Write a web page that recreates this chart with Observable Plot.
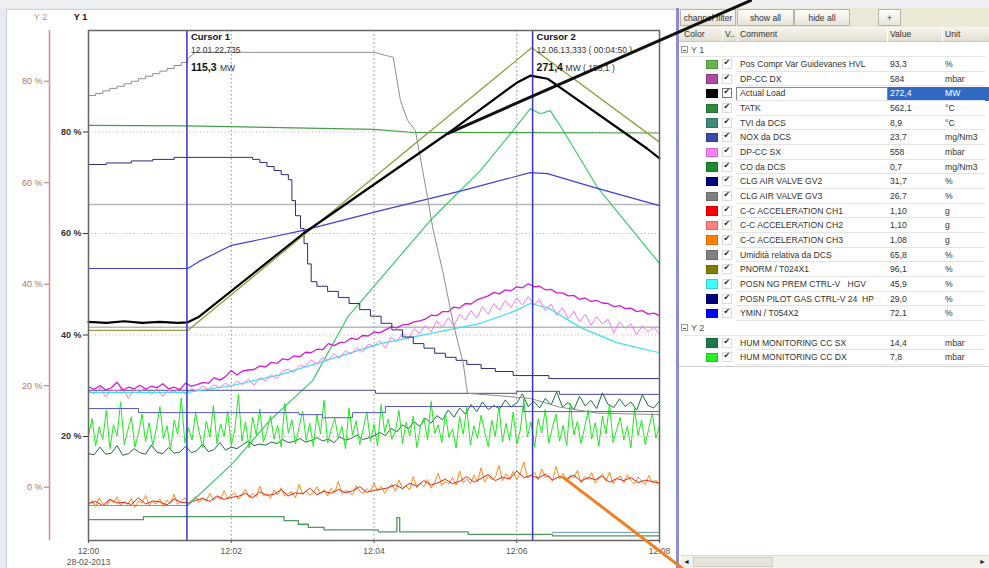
<!DOCTYPE html>
<html><head><meta charset="utf-8">
<script src="https://cdn.jsdelivr.net/npm/d3@7"></script>
<script src="https://cdn.jsdelivr.net/npm/@observablehq/plot@0.6"></script>
<style>
html,body{margin:0;padding:0;width:989px;height:568px;overflow:hidden;background:#e6ebf1;}
#wrap{position:relative;width:989px;height:568px;font-family:"Liberation Sans",Arial,sans-serif;}
#panel{position:absolute;left:6px;top:9px;width:671px;height:559px;background:#fff;border-left:1px solid #cdd2d8;border-top:1px solid #cdd2d8;box-sizing:border-box;}
#topstrip{position:absolute;left:0;top:0;width:989px;height:8px;background:#eef0f2;}
#divider{position:absolute;left:676px;top:8px;width:3px;height:560px;background:#8c8cd2;}
#legend{position:absolute;left:679px;top:8px;width:310px;height:560px;background:#fff;font-size:8.6px;color:#222;overflow:hidden;}
#chart{position:absolute;left:0;top:0;width:989px;height:568px;pointer-events:none;}
.abs{position:absolute;white-space:pre;}
.btn{position:absolute;top:1px;height:17px;line-height:16px;text-align:center;background:linear-gradient(#fdfdfb,#e6e4da);border:1px solid #b9b5a6;box-sizing:border-box;font-size:8.6px;color:#333;}
</style>
</head><body>
<div id="wrap">
  <div id="topstrip"></div>
  <div id="panel"></div>
  <div id="legend"></div>
  <div id="divider"></div>
  <div id="chart"></div>
</div>
<script>
// ---------- time / scale helpers ----------
const T0 = Date.UTC(2013, 1, 28, 12, 0, 0);
const toDate = (m) => new Date(T0 + m * 60000);
const Y2_OFFSET = 10; // Y2 0 % sits at Y1 10 %
const dateLabel = "28-02-2013";

// ---------- axes ----------
const xTickMinutes = [0, 2, 4, 6, 8];
const xGridMinutes = [2, 4, 6];
const y1Ticks = [20, 40, 60, 80];
const y2Ticks = [0, 20, 40, 60, 80];
const limitLevels = [65.7, 41.5];

// ---------- cursors ----------
const cursorMinutes = [1.3789, 6.2222];
const cursorNames = ["Cursor 1", "Cursor 2"];
const cursorStamps = ["12.01.22,735", "12.06.13,333 ( 00:04:50 )"];
const cursorValues = ["115,3", "271,4"];
const cursorSuffix = ["MW", "MW ( 156,1 )"];

// ---------- smooth series [minute, Y1 %] ----------
const actualLoad = [[0,42.6],[0.25,42.4],[0.5,42.7],[0.75,42.4],[1.0,42.6],[1.25,42.4],[1.39,42.5],[1.55,43.6],[3.01,60.0],[5.03,79.7],[6.0,89.7],[6.19,91.1],[6.43,90.5],[7.83,76.7],[8.0,74.8]];
const pnorm = [[0,40.9],[1.39,40.9],[6.21,96.6],[8.0,78.0]];
const posCompr = [[0,6.4],[1.39,6.4],[2.02,14.7],[2.55,23.3],[3.14,31.0],[3.63,43.5],[4.79,62.6],[5.49,72.4],[5.95,80.3],[6.19,84.6],[6.33,83.6],[6.47,84.2],[6.65,80.3],[7.13,69.1],[8.0,54.1]];
const tatk = [[0,81.3],[1.39,81.2],[2.5,80.9],[4.0,80.5],[4.55,79.9],[8.0,79.8]];
const ymin = [[0,53.1],[1.39,53.1],[1.55,54.5],[1.99,57.6],[3.01,60.6],[4.09,64.5],[5.25,68.5],[6.19,72.0],[6.43,71.8],[7.13,68.9],[8.0,65.5]];
const gv2Steps = [[0,73.6],[0.25,73.9],[0.6,74.3],[0.9,74.6],[1.2,75.0],[2.3,74.6],[2.4,74.0],[2.5,73.2],[2.6,72.4],[2.7,71.6],[2.8,70.6],[2.85,66.5],[2.9,63.5],[2.97,61.0],[3.02,58.0],[3.07,54.0],[3.12,50.5],[3.2,49.6],[3.35,48.6],[3.5,47.4],[3.65,46.2],[3.8,45.0],[3.95,43.7],[4.1,42.3],[4.25,41.0],[4.4,39.6],[4.55,38.3],[4.7,37.4],[4.85,36.4],[5.0,35.6],[5.15,35.0],[5.3,34.2],[5.5,33.4],[5.7,32.8],[5.95,32.0],[6.45,31.4],[8.0,31.2]];
const umiditaStairs = [[0,87.2],[0.1,87.6],[0.2,88.1],[0.3,88.6],[0.4,89.0],[0.5,89.5],[0.6,90.0],[0.7,90.5],[0.8,91.0],[0.9,91.5],[1.0,92.0],[1.1,92.5],[1.2,93.1],[1.3,93.7],[1.39,94.5]];
const umiditaTail = [[1.39,94.5],[1.5,95.7],[4.0,95.7],[4.08,95.4],[4.16,95.1],[4.22,94.9],[4.27,94.7],[4.34,88.8],[4.37,86.2],[4.47,82.3],[4.58,80.3],[4.75,67.1],[4.83,60.6],[4.97,52.1],[5.11,42.3],[5.25,34.4],[5.31,28.5],[5.77,28.0],[6.19,27.5],[6.6,25.8],[7.13,24.6],[8.0,24.3]];
const posnNg = [[0,28.7],[1.39,28.7],[2.0,30.0],[2.69,32.2],[4.09,38.3],[5.49,42.3],[5.95,44.6],[6.19,46.2],[6.43,45.4],[6.89,41.5],[7.4,38.5],[8.0,36.5]];
const pilotSteps = [[0,29.1],[4.02,28.5],[6.0,28.9],[6.6,28.3],[8.0,28.1]];
const noxSteps = [[0,25.5],[0.7,24.7],[2.95,24.3],[3.28,23.7],[3.7,24.7],[4.16,25.9],[6.1,24.9],[8.0,24.9]];
const tviSteps = [[0,3.6],[0.77,4.2],[2.74,3.4],[2.94,2.7],[3.08,2.1],[3.3,1.6],[4.06,1.2],[4.32,4.0],[4.36,1.2],[5.32,0.7],[6.5,0.4],[8.0,0.4]];
const coTail = [[6.5,1.1],[8.0,1.1]];

// ---------- sampled (noisy) series ----------
const dpDxStep = 0.08;
const dpDxVals = [29.8,29.3,30.0,29.2,29.6,30.7,29.1,29.7,29.4,30.1,
29.3,29.9,29.6,30.4,29.4,29.7,29.2,30.5,29.9,30.2,
30.6,30.5,31.6,31.1,31.8,33.0,32.1,32.9,33.1,33.2,
33.9,33.7,34.6,34.4,35.3,35.1,35.9,35.7,36.6,36.5,
37.2,37.1,38.3,37.9,38.5,38.6,39.4,39.1,39.9,39.8,
40.6,40.4,41.0,41.6,41.4,42.0,42.1,42.6,42.8,43.1,
43.9,43.8,44.6,44.6,45.5,45.3,46.2,46.1,46.9,47.3,
47.7,48.4,48.1,48.9,48.7,49.5,49.3,50.1,49.5,49.6,
48.9,49.0,48.3,48.3,47.7,47.8,47.0,47.3,46.6,46.8,
46.3,46.2,45.6,45.8,45.2,45.3,44.6,44.8,44.1,44.3,
43.8];
const dpSxStep = 0.08;
const dpSxVals = [29.0,28.4,29.6,27.8,29.2,28.9,29.5,27.5,29.3,28.8,
29.6,28.2,29.4,27.9,29.1,28.7,29.5,28.3,29.4,29.0,
29.9,29.3,30.2,29.6,30.5,29.8,30.9,30.2,31.3,30.1,
31.6,30.9,32.1,31.4,32.9,33.3,32.6,34.0,33.8,35.1,
34.2,35.6,35.0,36.3,35.4,36.9,36.2,37.5,36.6,38.2,
37.8,38.9,37.4,39.6,38.7,40.4,39.1,41.2,40.3,41.9,
40.6,42.8,41.5,43.4,41.8,44.1,42.9,44.8,43.3,45.6,
44.1,46.2,44.9,46.8,45.4,47.3,45.9,47.6,46.0,46.9,
44.8,46.1,43.9,45.4,43.2,44.7,42.6,44.1,41.9,43.6,
42.2,43.1,40.4,42.6,41.3,42.2,40.1,41.8,40.6,41.5,
40.2];
// Y2 units (%)
const humDxStep = 0.05;
const humDxVals = [10.2,13.5,8.1,11.9,9.4,15.2,7.6,12.3,10.1,16.8,8.4,11.2,13.9,7.9,10.6,14.4,9.0,12.7,8.3,11.5,
15.9,9.6,12.1,7.4,13.2,10.4,17.6,8.8,11.7,9.3,14.6,10.9,7.8,13.0,9.9,16.1,8.6,12.5,10.0,14.9,
8.2,11.4,18.3,9.1,12.9,7.7,13.8,10.3,15.4,8.9,11.1,14.1,9.5,12.2,7.9,16.5,10.7,13.3,8.5,11.8,
15.0,9.2,12.6,8.0,14.3,10.5,17.1,8.7,11.3,13.6,9.7,12.0,7.6,15.6,10.2,13.1,8.4,11.6,14.7,9.0,
12.4,8.1,16.3,10.8,13.4,9.4,11.0,15.1,8.6,12.8,10.1,14.0,7.8,11.9,13.7,9.3,16.9,10.6,12.3,8.8,
14.5,9.8,11.5,7.7,13.9,10.4,15.7,8.3,12.1,9.6,14.2,11.0,8.0,13.2,10.0,16.0,8.9,12.6,9.2,14.8,
8.5,11.3,17.4,9.9,12.9,7.9,13.5,10.7,15.3,8.7,11.8,14.4,9.1,12.2,8.2,16.6,10.3,13.0,8.6,11.7,
15.2,9.5,12.7,8.1,14.0,10.5,16.4,8.8,11.4,13.8,9.3,12.0,7.8,15.5,10.2,13.3,8.4,11.6,14.6,9.7,
12.1];
const humSxStep = 0.08;
const humSxVals = [6.6,6.4,7.9,6.5,6.7,8.2,6.3,6.6,7.6,6.8,6.5,8.3,6.9,6.6,7.8,6.7,6.9,8.1,
6.8,7.2,8.5,7.0,7.4,8.8,7.3,7.9,7.6,8.4,9.1,8.2,8.5,
8.3,8.9,8.6,9.4,8.8,9.0,9.6,8.9,9.2,9.8,9.1,9.5,8.8,9.9,9.3,9.6,10.3,9.4,9.7,10.1,
10.8,10.2,11.6,10.9,12.3,11.5,12.9,12.0,13.6,12.6,14.1,13.3,15.2,13.8,15.6,14.4,16.3,14.9,16.8,15.3,
16.1,15.4,17.2,15.8,16.6,18.4,15.9,16.9,15.6,17.5,16.2,18.8,15.8,16.7,15.3,17.9,16.0,17.1,15.5,18.6,
16.3,15.7,17.4,15.9,16.8,15.2,18.2,16.1,15.6,17.0];
const ch3Step = 0.05;
const ch3Vals = [6.5,7.4,6.2,7.9,6.8,6.3,7.6,6.9,8.1,6.4,7.2,6.6,7.8,6.1,7.3,6.9,8.4,6.5,7.1,6.7,7.7,6.2,7.5,6.8,8.6,6.6,7.3,7.9,
6.6,7.5,8.2,7.0,7.9,7.3,8.8,7.4,8.1,7.6,9.3,7.8,8.4,
8.9,7.6,8.5,9.6,7.9,8.8,8.1,10.2,8.3,8.7,7.8,9.4,8.5,9.9,8.2,8.8,9.1,7.9,10.6,8.6,9.3,8.4,9.0,10.1,8.7,9.5,8.3,9.8,8.9,11.2,8.6,9.4,9.0,8.5,10.3,9.2,8.8,9.7,9.1,10.8,
9.3,10.2,8.8,9.9,10.6,9.2,11.4,9.7,10.3,9.5,12.1,9.9,10.8,10.1,11.5,9.8,10.9,12.8,10.3,11.2,10.6,11.9,10.4,13.2,10.9,11.6,10.7,12.4,11.1,13.8,11.0,12.2,11.5,11.9,14.3,11.3,12.6,11.7,13.1,11.4,12.8,15.0,11.8,12.5,
12.9,11.4,13.6,11.9,12.3,11.2,14.1,11.6,12.7,11.0,12.4,11.8,13.3,10.9,12.1,11.5,12.9,10.8,11.9,12.6,11.1,13.0,10.7,11.8,12.2,10.9,12.5,11.3,10.6,12.0,11.2,10.5,12.3,10.9,11.4,10.6];
const ch1Step = 0.1;
const ch1Vals = [6.8,7.2,6.4,7.6,6.9,7.0,6.6,7.9,6.7,7.3,7.1,6.5,7.7,7.0,
6.9,7.4,7.8,7.2,8.3,7.6,8.0,
8.2,8.8,7.9,9.1,8.4,8.6,9.5,8.3,8.9,8.7,9.8,8.5,9.2,8.8,9.6,8.9,9.3,10.1,9.0,9.4,
9.6,9.9,10.5,9.7,10.8,10.2,11.3,10.4,10.9,11.6,10.7,11.2,12.1,11.0,11.7,12.5,11.3,12.0,11.6,13.2,11.9,12.3,
11.8,12.6,11.4,12.1,11.7,12.4,11.2,11.9,11.5,12.2,11.0,11.7,11.3,11.9,10.9,11.4,11.1,10.8];

// ---------- annotation call-outs ----------
const calloutBlack = [[5.03,79.7],[9.275,105.9]];
const calloutOrange = [[6.655,11.9],[8.322,-6.0]];

// ---------- legend table ----------
const y1Names = ["Pos Compr Var Guidevanes HVL","DP-CC DX","Actual Load","TATK","TVI da DCS","NOX da DCS","DP-CC SX","CO da DCS","CLG AIR VALVE GV2","CLG AIR VALVE GV3","C-C ACCELERATION CH1","C-C ACCELERATION CH2","C-C ACCELERATION CH3","Umidità relativa da DCS","PNORM / T024X1","POSN NG PREM CTRL-V   HGV","POSN PILOT GAS CTRL-V 24  HP","YMIN / T054X2"];
const y1Swatches = ["#66b84a","#b04aa0","#000000","#2e8b3a","#3a8a7e","#3a4aa8","#ff80ff","#1f8a2a","#000080","#808080","#ff0000","#ff8080","#ff8000","#808080","#808000","#40ffff","#000080","#0000ff"];
const y1Values = ["93,3","584","272,4","562,1","8,9","23,7","558","0,7","31,7","26,7","1,10","1,10","1,08","65,8","96,1","45,9","29,0","72,1"];
const y1Units = ["%","mbar","MW","°C","°C","mg/Nm3","mbar","mg/Nm3","%","%","g","g","g","%","%","%","%","%"];
const y2Names = ["HUM MONITORING CC SX","HUM MONITORING CC DX"];
const y2Swatches = ["#1e7a4a","#22f022"];
const y2Values = ["14,4","7,8"];
const y2Units = ["mbar","mbar"];
const toolbarLabels = ["channel filter","show all","hide all","+"];
const headerLabels = ["Color","V..","Comment","Value","Unit"];
const highlightedRow = "Actual Load";

// ---------- build chart ----------
const pairs = (arr, off = 0) => arr.map(([t, v]) => ({t: toDate(t), v: v + off}));
const sampled = (step, vals, off = 0) => vals.map((v, i) => ({t: toDate(i * step), v: v + off}));
const L = (data, stroke, extra = {}) => Plot.line(data, {x: "t", y: "v", stroke, strokeWidth: 1, ...extra});
const fmt = d3.utcFormat("%H:%M");
const cursorRows = cursorMinutes.map((m, i) => ({t: toDate(m), name: cursorNames[i], stamp: cursorStamps[i], val: cursorValues[i], suf: cursorSuffix[i]}));
const FONT = "'Liberation Sans', Arial, sans-serif";

const chart = Plot.plot({
  width: 989, height: 568,
  marginLeft: 88, marginRight: 330, marginTop: 30, marginBottom: 28,
  style: {background: "transparent", fontFamily: FONT, fontSize: "9px", overflow: "visible"},
  x: {type: "utc", domain: [toDate(0), toDate(8)]},
  y: {domain: [-0.5, 100]},
  marks: [
    Plot.gridY(y1Ticks, {stroke: "#c7a3b5", strokeOpacity: 1, strokeDasharray: "1,2.5"}),
    Plot.gridX(xGridMinutes.map(toDate), {stroke: "#8a8a8a", strokeOpacity: 1, strokeDasharray: "1.5,2.5"}),
    Plot.ruleY(limitLevels, {stroke: "#b8b8b8", strokeWidth: 1.5}),
    L(pairs(tviSteps), "#4f9a5c", {curve: "step-after", strokeWidth: 1.3}),
    L(pairs(coTail), "#5aa0a8"),
    L(sampled(ch3Step, ch3Vals), "#ff8a1e"),
    L(sampled(ch1Step, ch1Vals), "#e3261c"),
    L(pairs(posCompr), "#3dca6c", {strokeWidth: 1.2}),
    L(sampled(humSxStep, humSxVals, Y2_OFFSET), "#18703f"),
    L(sampled(humDxStep, humDxVals, Y2_OFFSET), "#1ee81e"),
    L(pairs(noxSteps), "#5858c4", {curve: "step-after"}),
    L(pairs(pilotSteps), "#4a4a96", {curve: "step-after"}),
    L(pairs(posnNg), "#3fe0ee", {strokeWidth: 1.2}),
    L(sampled(dpSxStep, dpSxVals), "#f07cf0"),
    L(sampled(dpDxStep, dpDxVals), "#d21ed2", {strokeWidth: 1.3}),
    L(pairs(ymin), "#4040d4", {strokeWidth: 1.2}),
    L(pairs(gv2Steps), "#2c2c78", {curve: "step-after"}),
    L(pairs(umiditaStairs), "#8e8e8e", {curve: "step-after"}),
    L(pairs(umiditaTail), "#8e8e8e"),
    L(pairs(tatk), "#44a048", {strokeWidth: 1.2}),
    L(pairs(pnorm), "#9a9a40", {strokeWidth: 1.3}),
    L(pairs(actualLoad), "#000", {strokeWidth: 2.2}),
    Plot.ruleX(cursorRows, {x: "t", stroke: "#3434c8", strokeWidth: 1.5}),
    Plot.frame({stroke: "#666", strokeWidth: 1.5}),
    Plot.axisY(y1Ticks, {tickFormat: d => `${d} %`, tickSize: 5, tickPadding: 2, fontWeight: "bold", fontSize: 9, color: "#333", label: null}),
    Plot.axisY(y2Ticks.map(d => d + Y2_OFFSET), {tickFormat: d => `${d - Y2_OFFSET} %`, tickSize: 5, tickPadding: 2, dx: -39, fontSize: 9, color: "#b07466", label: null}),
    Plot.ruleX([{t: toDate(0), a: -0.5, b: 100}], {x: "t", y1: "a", y2: "b", dx: -39, stroke: "#d98c8c", strokeWidth: 1.5}),
    Plot.axisX(xTickMinutes.map(toDate), {tickFormat: d => +d === T0 ? `${fmt(d)}\n${dateLabel}` : fmt(d), tickSize: 3, tickPadding: 2, fontSize: 8.5, lineHeight: 1.35, color: "#555", label: null}),
    Plot.text(["Y 2"], {text: d => d, frameAnchor: "top-left", dx: -48, dy: -13, lineAnchor: "middle", textAnchor: "middle", fill: "#c49494", fontSize: 9}),
    Plot.text(["Y 1"], {text: d => d, frameAnchor: "top-left", dx: -8, dy: -13, lineAnchor: "middle", textAnchor: "middle", fill: "#111", fontWeight: "bold", fontSize: 9}),
    Plot.text(cursorRows, {x: "t", text: "name", frameAnchor: "top", dx: 4, dy: 3, textAnchor: "start", lineAnchor: "top", fontWeight: "bold", fontSize: 9.5, fill: "#111"}),
    Plot.text(cursorRows, {x: "t", text: "stamp", frameAnchor: "top", dx: 4, dy: 16, textAnchor: "start", lineAnchor: "top", fontSize: 8.5, fill: "#333"}),
    Plot.text(cursorRows, {x: "t", text: "val", frameAnchor: "top", dx: 4, dy: 33, textAnchor: "start", lineAnchor: "top", fontWeight: "bold", fontSize: 10.5, fill: "#111"}),
    Plot.text(cursorRows, {x: "t", text: "suf", frameAnchor: "top", dx: 33, dy: 34.5, textAnchor: "start", lineAnchor: "top", fontSize: 8.5, fill: "#333"}),
    Plot.line(pairs(calloutBlack), {x: "t", y: "v", stroke: "#111", strokeWidth: 3}),
    Plot.line(pairs(calloutOrange), {x: "t", y: "v", stroke: "#f08020", strokeWidth: 3})
  ]
});
document.getElementById("chart").appendChild(chart);

// ---------- build legend ----------
const legend = document.getElementById("legend");
function el(parent, css, text, cls) {
  const d = document.createElement("div");
  d.className = cls || "abs";
  Object.assign(d.style, css);
  if (text != null) d.textContent = text;
  parent.appendChild(d);
  return d;
}
// toolbar
el(legend, {left: "0px", top: "0px", width: "310px", height: "19px", background: "#ece9d8"});
const btnPos = [[1, 56], [58, 57], [115, 56], [199, 23]];
toolbarLabels.forEach((lab, i) => el(legend, {left: btnPos[i][0] + "px", width: btnPos[i][1] + "px"}, lab, "btn"));
// header
el(legend, {left: "0px", top: "19px", width: "310px", height: "15px", background: "linear-gradient(#f6f5ef,#e3e0d2)", borderBottom: "1px solid #cbc7b8", boxSizing: "border-box"});
const hdrLeft = [3, 43, 58, 208, 263];
headerLabels.forEach((lab, i) => {
  el(legend, {left: hdrLeft[i] + "px", top: "19px", height: "15px", lineHeight: "15px", color: "#333", paddingLeft: "2px", borderLeft: i ? "1px solid #fff" : "none", fontSize: "8.6px"}, lab);
});
const ROW_H = 14.65;
function groupHeader(label, y) {
  const box = el(legend, {left: "2px", top: (y + 3.5) + "px", width: "7px", height: "7px", border: "1px solid #9a9a9a", boxSizing: "border-box"});
  el(box, {left: "1px", top: "2.5px", width: "3px", height: "1px", background: "#555"});
  el(legend, {left: "12px", top: y + "px", height: ROW_H + "px", lineHeight: ROW_H + "px", color: "#555", fontSize: "9px"}, label);
  el(legend, {left: "2px", top: (y + ROW_H - 1) + "px", width: "304px", height: "1px", background: "#e6e6e6"});
}
function row(name, color, value, unit, y) {
  const hi = name === highlightedRow;
  if (hi) {
    el(legend, {left: "209px", top: (y + 0.5) + "px", width: "101px", height: (ROW_H - 1) + "px", background: "#316ac5"});
    el(legend, {left: "57px", top: (y + 0.5) + "px", width: "152px", height: (ROW_H - 1) + "px", border: "1px solid #8a8a8a", boxSizing: "border-box"});
  }
  el(legend, {left: "27px", top: (y + 2.5) + "px", width: "12px", height: "9.5px", background: color, border: "1px solid rgba(0,0,0,0.18)", boxSizing: "border-box"});
  const cb = el(legend, {left: "43px", top: (y + 2) + "px", width: "10px", height: "10px", border: "1px solid " + (hi ? "#6a7a8a" : "#d6dde4"), boxSizing: "border-box", background: "#fff"});
  el(cb, {left: "0.5px", top: "-2px", fontSize: "8px", fontFamily: "'DejaVu Sans'", color: "#222"}, "✔");
  el(legend, {left: "61px", top: y + "px", height: ROW_H + "px", lineHeight: ROW_H + "px", color: "#333"}, name);
  el(legend, {left: "211px", top: y + "px", height: ROW_H + "px", lineHeight: ROW_H + "px", color: hi ? "#fff" : "#333"}, value);
  el(legend, {left: "266px", top: y + "px", height: ROW_H + "px", lineHeight: ROW_H + "px", color: hi ? "#fff" : "#333"}, unit);
  el(legend, {left: "57px", top: (y + ROW_H - 1) + "px", width: "249px", height: "1px", background: "#e4e4e4"});
}
let rowY = 34.5;
groupHeader("Y 1", rowY); rowY += ROW_H;
y1Names.forEach((n, i) => { row(n, y1Swatches[i], y1Values[i], y1Units[i], rowY); rowY += ROW_H; });
groupHeader("Y 2", rowY); rowY += ROW_H;
y2Names.forEach((n, i) => { row(n, y2Swatches[i], y2Values[i], y2Units[i], rowY); rowY += ROW_H; });
el(legend, {left: "0px", top: (rowY + 1) + "px", width: "310px", height: "1px", background: "#d0d0d0"});
// scrollbar
const sb = el(legend, {left: "2px", top: "547px", width: "308px", height: "13px", background: "#f1f0ea", borderTop: "1px solid #dcdcd4", boxSizing: "border-box"});
el(sb, {left: "2px", top: "0px", fontSize: "7px", lineHeight: "12px", color: "#222"}, "◄");
el(sb, {right: "3px", top: "0px", fontSize: "7px", lineHeight: "12px", color: "#222"}, "►");
el(sb, {left: "12px", top: "1px", width: "80px", height: "10px", background: "#e7e5db", border: "1px solid #d2cfc2", boxSizing: "border-box"});
</script>
</body></html>
